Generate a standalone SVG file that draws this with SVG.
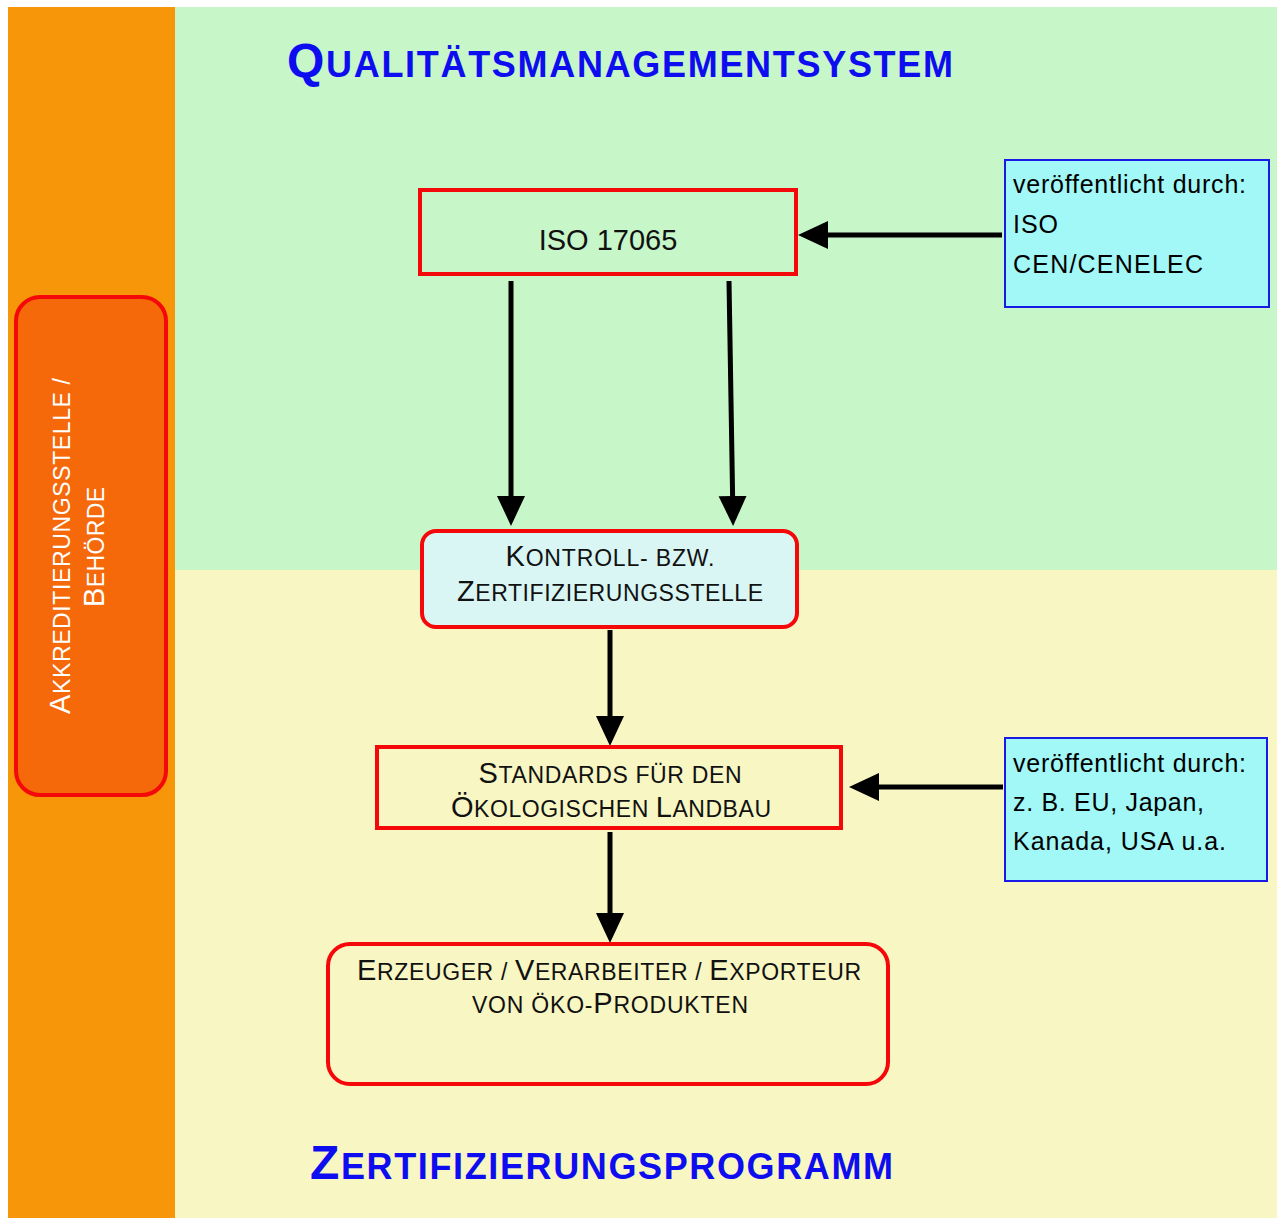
<svg xmlns="http://www.w3.org/2000/svg" width="1280" height="1218" viewBox="0 0 1280 1218">
<style>
text{font-family:"Liberation Sans",Arial,sans-serif;}
.red{fill:none;stroke:#f5080a;stroke-width:4;}
.info{fill:#a2f7f7;stroke:#1a1ae6;stroke-width:2;}
.conn{stroke:#000;stroke-width:5;fill:none;}
.title{font-weight:bold;fill:#0d0df0;}
.tb{font-size:48px;}
.ts{font-size:36px;}
.bb{font-size:29px;}
.bs{font-size:23px;}
.it{font-size:25px;fill:#000;}
</style>
<defs>
<marker id="ah" markerUnits="userSpaceOnUse" markerWidth="32" markerHeight="30" viewBox="0 -15 32 30" refX="0" refY="0" orient="auto">
<path d="M0,-14 L30,0 L0,14 z" fill="#000"/>
</marker>
</defs>
<rect x="0" y="0" width="1280" height="1218" fill="#fff"/>
<rect x="8" y="7" width="167" height="1211" fill="#f79608"/>
<rect x="175" y="7" width="1102" height="563" fill="#c7f6c9"/>
<rect x="175" y="570" width="1102" height="648" fill="#f8f6c2"/>

<g id="title-qms">
<text class="title" x="287" y="77" textLength="666"><tspan class="tb">Q</tspan><tspan class="ts">UALITÄTSMANAGEMENTSYSTEM</tspan></text>
</g>
<g id="title-zp">
<text class="title" x="310" y="1179" textLength="583"><tspan class="tb">Z</tspan><tspan class="ts">ERTIFIZIERUNGSPROGRAMM</tspan></text>
</g>

<g id="connectors">
<line class="conn" x1="511" y1="281" x2="511" y2="496" marker-end="url(#ah)"/>
<line class="conn" x1="729" y1="281" x2="732.6" y2="496" marker-end="url(#ah)"/>
<line class="conn" x1="610" y1="630" x2="610" y2="716" marker-end="url(#ah)"/>
<line class="conn" x1="610" y1="832" x2="610" y2="913" marker-end="url(#ah)"/>
<line class="conn" x1="1002" y1="235" x2="828" y2="235" marker-end="url(#ah)"/>
<line class="conn" x1="1003" y1="787" x2="879" y2="787" marker-end="url(#ah)"/>
</g>

<g id="akkreditierung">
<rect x="16" y="297" width="150" height="498" rx="24" fill="#f5690a" stroke="#f5080a" stroke-width="4"/>
<text transform="translate(70,546) rotate(-90)" text-anchor="middle" fill="#fff" textLength="336"><tspan font-size="29">A</tspan><tspan font-size="23">KKREDITIERUNGSSTELLE /</tspan></text>
<text transform="translate(104,547) rotate(-90)" text-anchor="middle" fill="#fff" textLength="120"><tspan font-size="29">B</tspan><tspan font-size="23">EHÖRDE</tspan></text>
</g>

<g id="iso17065">
<rect class="red" x="420" y="190" width="376" height="84"/>
<text x="608" y="250" text-anchor="middle" font-size="29" fill="#111">ISO 17065</text>
</g>

<g id="info-iso">
<rect class="info" x="1005" y="160" width="264" height="147"/>
<text class="it" x="1013" y="193" textLength="233">veröffentlicht durch:</text>
<text class="it" x="1013" y="233" textLength="45">ISO</text>
<text class="it" x="1013" y="273" textLength="190">CEN/CENELEC</text>
</g>

<g id="kontrollstelle">
<rect x="422" y="531" width="375" height="96" rx="14" fill="#d9f6f4" stroke="#f5080a" stroke-width="4"/>
<text x="610" y="566" text-anchor="middle" textLength="209" fill="#111"><tspan class="bb">K</tspan><tspan class="bs">ONTROLL- BZW.</tspan></text>
<text x="610" y="601" text-anchor="middle" textLength="306" fill="#111"><tspan class="bb">Z</tspan><tspan class="bs">ERTIFIZIERUNGSSTELLE</tspan></text>
</g>

<g id="standards">
<rect class="red" x="377" y="747" width="464" height="81"/>
<text x="610" y="783" text-anchor="middle" textLength="263" fill="#111"><tspan class="bb">S</tspan><tspan class="bs">TANDARDS FÜR DEN</tspan></text>
<text x="611" y="817" text-anchor="middle" textLength="320" fill="#111"><tspan class="bb">Ö</tspan><tspan class="bs">KOLOGISCHEN </tspan><tspan class="bb">L</tspan><tspan class="bs">ANDBAU</tspan></text>
</g>

<g id="info-standards">
<rect class="info" x="1005" y="738" width="262" height="143"/>
<text class="it" x="1013" y="772" textLength="233">veröffentlicht durch:</text>
<text class="it" x="1013" y="811" textLength="191">z. B. EU, Japan,</text>
<text class="it" x="1013" y="850" textLength="213">Kanada, USA u.a.</text>
</g>

<g id="erzeuger">
<rect class="red" x="328" y="944" width="560" height="140" rx="22"/>
<text x="609" y="980" text-anchor="middle" textLength="504" fill="#111"><tspan class="bb">E</tspan><tspan class="bs">RZEUGER / </tspan><tspan class="bb">V</tspan><tspan class="bs">ERARBEITER / </tspan><tspan class="bb">E</tspan><tspan class="bs">XPORTEUR</tspan></text>
<text x="610" y="1013" text-anchor="middle" textLength="276" fill="#111"><tspan class="bs">VON ÖKO-</tspan><tspan class="bb">P</tspan><tspan class="bs">RODUKTEN</tspan></text>
</g>
</svg>
